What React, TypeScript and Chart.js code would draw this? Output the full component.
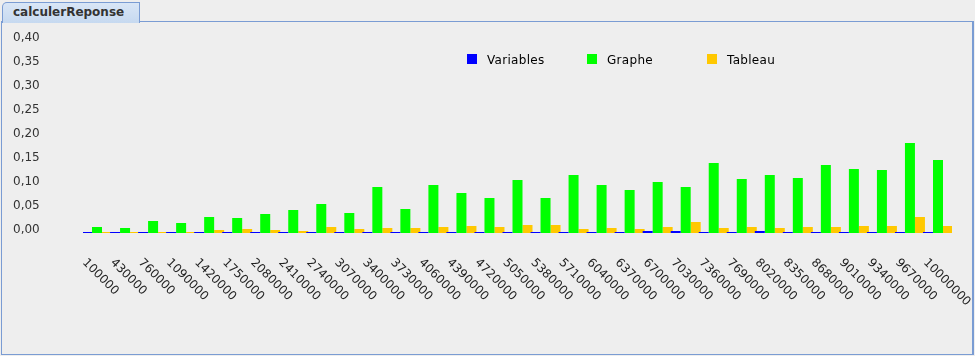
import React, { useEffect, useRef } from 'react';
import { Chart, registerables } from 'chart.js';

Chart.register(...registerables);

// ---- data ----
const categories: string[] = [
  '100000', '430000', '760000', '1090000', '1420000', '1750000', '2080000', '2410000',
  '2740000', '3070000', '3400000', '3730000', '4060000', '4390000', '4720000', '5050000',
  '5380000', '5710000', '6040000', '6370000', '6700000', '7030000', '7360000', '7690000',
  '8020000', '8350000', '8680000', '9010000', '9340000', '9670000', '10000000',
];

const variablesValues: number[] = [
  0.0021, 0.0021, 0.0021, 0.0021, 0.0021, 0.0021, 0.0021, 0.0021,
  0.0021, 0.0021, 0.0021, 0.0021, 0.0021, 0.0021, 0.0021, 0.0021,
  0.0021, 0.0021, 0.0021, 0.0021, 0.0042, 0.0042, 0.0021, 0.0021,
  0.0042, 0.0021, 0.0021, 0.0021, 0.0021, 0.0021, 0.0021,
];

const grapheValues: number[] = [
  0.0125, 0.0104, 0.025, 0.0208, 0.0333, 0.0313, 0.0396, 0.0479,
  0.0604, 0.0417, 0.0958, 0.05, 0.1, 0.0833, 0.0729, 0.1104,
  0.0729, 0.1208, 0.1, 0.0896, 0.1063, 0.0958, 0.1458, 0.1125,
  0.1208, 0.1146, 0.1417, 0.1333, 0.1313, 0.1875, 0.1521,
];

const tableauValues: number[] = [
  0.0021, 0.0021, 0.0021, 0.0021, 0.0063, 0.0083, 0.0063, 0.0042,
  0.0125, 0.0083, 0.0104, 0.0104, 0.0125, 0.0146, 0.0125, 0.0167,
  0.0167, 0.0083, 0.0104, 0.0083, 0.0125, 0.0229, 0.0104, 0.0125,
  0.0104, 0.0125, 0.0125, 0.0146, 0.0146, 0.0333, 0.0146,
];

const seriesNames: string[] = ['Variables', 'Graphe', 'Tableau'];
const seriesColors: string[] = ['#0000FF', '#00FF00', '#FFC800'];

const yMin = 0;
const yMax = 0.4;
const yStep = 0.05;

const tabTitle = 'calculerReponse';

const FONT = '"DejaVu Sans", sans-serif';

// legend drawn like the Swing chart (fixed spacing)
const swingLegend = {
  id: 'swingLegend',
  afterDraw(chart: any) {
    const { ctx } = chart;
    ctx.save();
    ctx.font = `12px ${FONT}`;
    ctx.textAlign = 'left';
    ctx.textBaseline = 'alphabetic';
    try { (ctx as any).letterSpacing = '0.3px'; } catch (e) { /* ignore */ }
    chart.data.datasets.forEach((ds: any, i: number) => {
      const x = 467 + 120 * i;
      ctx.fillStyle = ds.backgroundColor;
      ctx.fillRect(x, 54, 10, 10);
      ctx.fillStyle = '#000000';
      ctx.fillText(ds.label, x + 20, 64);
    });
    ctx.restore();
  },
};

// x category labels rotated 45° clockwise, starting at the tick
const diagonalLabels = {
  id: 'diagonalLabels',
  afterDraw(chart: any) {
    const scale = chart.scales.x;
    const { ctx, chartArea } = chart;
    ctx.save();
    ctx.font = `12px ${FONT}`;
    ctx.fillStyle = '#222222';
    ctx.textAlign = 'left';
    ctx.textBaseline = 'alphabetic';
    (chart.data.labels as string[]).forEach((lab, i) => {
      const x = scale.getPixelForValue(i);
      ctx.save();
      ctx.translate(x - 15, chartArea.bottom + 30);
      ctx.rotate(Math.PI / 4);
      ctx.fillText(String(lab), 0, 0);
      ctx.restore();
    });
    ctx.restore();
  },
};

function BarChart() {
  const ref = useRef<HTMLCanvasElement | null>(null);
  useEffect(() => {
    if (!ref.current) return;
    const values = [variablesValues, grapheValues, tableauValues];
    const chart = new Chart(ref.current, {
      type: 'bar',
      data: {
        labels: categories,
        datasets: seriesNames.map((name, i) => ({
          label: name,
          data: values[i],
          backgroundColor: seriesColors[i],
          borderWidth: 0,
          barPercentage: 1,
          categoryPercentage: 1.07,
        })),
      },
      options: {
        responsive: false,
        animation: false,
        layout: { padding: { left: 13, right: 23, top: 41, bottom: 123 } },
        plugins: {
          legend: { display: false },
          tooltip: { enabled: false },
        },
        scales: {
          x: {
            display: false,
            offset: true,
          },
          y: {
            min: yMin,
            max: yMax,
            grid: { display: false, drawTicks: false },
            border: { display: false },
            afterFit: (s: any) => {
              s.width = 70;
            },
            ticks: {
              stepSize: yStep,
              padding: 0,
              crossAlign: 'far',
              labelOffset: -3,
              color: '#333333',
              font: { family: FONT, size: 12 },
              callback: (v: any) => Number(v).toFixed(2).replace('.', ','),
            },
          },
        },
      },
      plugins: [swingLegend, diagonalLabels],
    });
    return () => chart.destroy();
  }, []);
  return (
    <canvas
      ref={ref}
      width={975}
      height={356}
      style={{ position: 'absolute', left: 0, top: 0, width: 975, height: 356, display: 'block' }}
    />
  );
}

export default function App() {
  return (
    <div
      style={{
        position: 'fixed',
        left: 0,
        top: 0,
        width: 975,
        height: 356,
        background: '#EEEEEE',
        overflow: 'hidden',
        fontFamily: FONT,
      }}
    >
      <div
        style={{
          position: 'absolute',
          left: 1,
          top: 21,
          width: 973,
          height: 334,
          boxSizing: 'border-box',
          borderStyle: 'solid',
          borderColor: '#7A9CD3',
          borderWidth: '1px 2px 1px 1px',
          background: '#EEEEEE',
        }}
      />
      <div
        style={{
          position: 'absolute',
          left: 2,
          top: 2,
          width: 138,
          height: 21,
          boxSizing: 'border-box',
          border: '1px solid #7A9CD3',
          borderBottom: 'none',
          borderTopLeftRadius: 5,
          background: 'linear-gradient(#D9E6F6, #C6D9F0)',
          color: '#333333',
          fontWeight: 'bold',
          fontSize: 12,
          lineHeight: '18px',
          paddingLeft: 10,
          whiteSpace: 'nowrap',
        }}
      >
        {tabTitle}
      </div>
      <BarChart />
    </div>
  );
}
